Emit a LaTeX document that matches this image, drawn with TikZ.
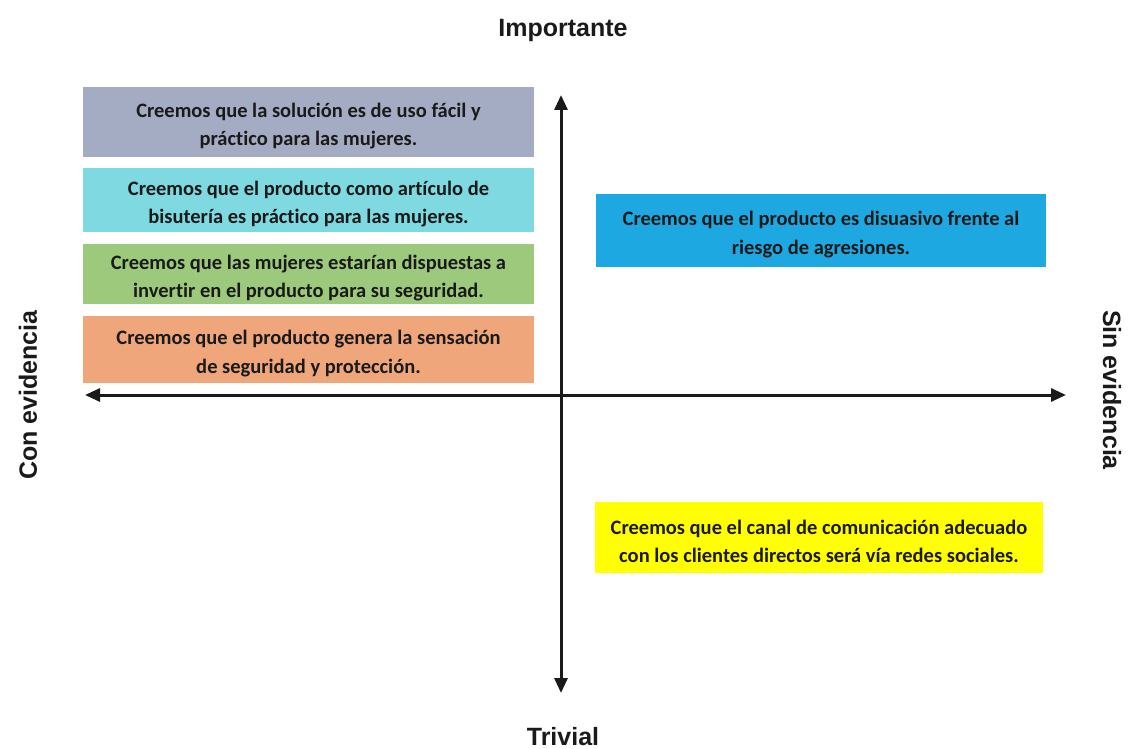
\documentclass[tikz,border=0pt]{standalone}
\usepackage{fontspec}
\setmainfont{Carlito}[Ligatures={NoCommon}]
\newfontfamily\axisfont{Liberation Sans}
\usetikzlibrary{arrows.meta}
\definecolor{boxgray}{HTML}{A4ACC3}
\definecolor{boxcyan}{HTML}{7ED9E0}
\definecolor{boxgreen}{HTML}{9DC97D}
\definecolor{boxorange}{HTML}{F0A67B}
\definecolor{boxblue}{HTML}{1EA8E2}
\definecolor{boxyellow}{HTML}{FFFF00}
\definecolor{ink}{HTML}{1A1A1A}
\begin{document}
\begin{tikzpicture}[x=1pt,y=-1pt,
  hyp/.style={rectangle, inner sep=0pt, minimum width=451pt},
  hyptext/.style={inner sep=0pt, text=ink, align=center, yshift=-4pt,
    font=\fontsize{20.5}{28.5}\selectfont\bfseries},
  axislabel/.style={font=\axisfont\fontsize{25}{28}\selectfont\bfseries, text=ink},
  axis/.style={line width=3pt, ink, {Triangle[length=15pt,width=13pt]}-{Triangle[length=15pt,width=13pt]}}]
  \useasboundingbox[fill=white] (0,0) rectangle (1130,749);

  % hypothesis boxes
  \node[hyp, fill=boxgray, minimum height=70pt] (h1) at (308.5,122) {};
  \node[hyptext] (t1) at (h1.center)
    {Creemos que la solución es de uso fácil y\\práctico para las mujeres.};
  \node[hyp, fill=boxcyan, minimum height=64pt] (h2) at (308.5,200) {};
  \node[hyptext] (t2) at (h2.center)
    {Creemos que el producto como artículo de\\bisutería es práctico para las mujeres.};
  \node[hyp, fill=boxgreen, minimum height=60pt] (h3) at (308.5,274) {};
  \node[hyptext] (t3) at (h3.center)
    {Creemos que las mujeres estarían dispuestas a\\invertir en el producto para su seguridad.};
  \node[hyp, fill=boxorange, minimum height=67pt] (h4) at (308.5,349.5) {};
  \node[hyptext] (t4) at (h4.center)
    {Creemos que el producto genera la sensación\\de seguridad y protección.};
  \node[hyp, fill=boxblue, minimum width=450pt, minimum height=73pt] (h5) at (821,230.5) {};
  \node[hyptext] (t5) at (h5.center)
    {Creemos que el producto es disuasivo frente al\\riesgo de agresiones.};
  \node[hyp, fill=boxyellow, minimum width=448pt, minimum height=71pt] (h6) at (819,537.5) {};
  \node[hyptext] (t6) at (h6.center)
    {Creemos que el canal de comunicación adecuado\\con los clientes directos será vía redes sociales.};

  % axes
  \coordinate (left) at (85,395);
  \coordinate (right) at (1066,395);
  \coordinate (top) at (561,95);
  \coordinate (bottom) at (561,693);
  \draw[axis] (left) -- (right);
  \draw[axis] (top) -- (bottom);

  % axis labels
  \node[axislabel] (imp) at (563,30) {Importante};
  \node[axislabel] (triv) at (563,737) {Trivial};
  \node[axislabel, rotate=90] (con) at (28,395) {Con evidencia};
  \node[axislabel, rotate=-90] (sin) at (1112,390) {Sin evidencia};
\end{tikzpicture}
\end{document}
